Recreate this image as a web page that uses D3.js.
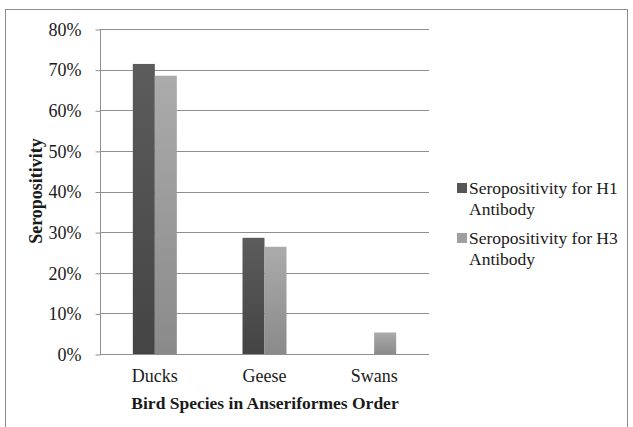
<!DOCTYPE html>
<html><head><meta charset="utf-8">
<script src="https://cdn.jsdelivr.net/npm/d3@7"></script>
<style>body{margin:0;background:#fff}svg{display:block}text{font-family:"Liberation Serif","Times New Roman",serif;fill:#1a1a1a}</style>
</head><body>
<script>
const categories = ["Ducks", "Geese", "Swans"];
const seriesNames = ["Seropositivity for H1 Antibody", "Seropositivity for H3 Antibody"];
const h1Values = [0.714, 0.286, 0];
const h3Values = [0.685, 0.264, 0.053];
const yTicks = [0, 0.1, 0.2, 0.3, 0.4, 0.5, 0.6, 0.7, 0.8];

(function () {
const W = 633, H = 427;
const svg = d3.select("body").append("svg").attr("width", W).attr("height", H);
const defs = svg.append("defs");
const g1 = defs.append("linearGradient").attr("id","gDark").attr("x1",0).attr("y1",0).attr("x2",0).attr("y2",1);
g1.append("stop").attr("offset","0%").attr("stop-color","#5c5c5c");
g1.append("stop").attr("offset","100%").attr("stop-color","#444444");
const g2 = defs.append("linearGradient").attr("id","gLight").attr("x1",0).attr("y1",0).attr("x2",0).attr("y2",1);
g2.append("stop").attr("offset","0%").attr("stop-color","#ababab");
g2.append("stop").attr("offset","100%").attr("stop-color","#8a8a8a");
const fills = ["url(#gDark)", "url(#gLight)"];
const legendFills = ["#555555", "#a0a0a0"];
const FONT = '"Liberation Serif","Times New Roman",serif';

// outer frame
svg.append("rect").attr("x",5.5).attr("y",9.5).attr("width",622).attr("height",430)
  .attr("fill","none").attr("stroke","#8c8c8c").attr("stroke-width",1);

const pLeft = 100, pRight = 429, pTop = 29, pBottom = 354;
const x = d3.scaleBand().domain(categories).range([pLeft, pRight]).paddingInner(0).paddingOuter(0);
const y = d3.scaleLinear().domain([0, 0.8]).range([pBottom, pTop]);
const barW = 22;

// gridlines
svg.append("g").selectAll("line").data(yTicks).join("line")
  .attr("x1", pLeft).attr("x2", pRight)
  .attr("y1", d => Math.round(y(d)) + 0.5).attr("y2", d => Math.round(y(d)) + 0.5)
  .attr("stroke", "#8f8f8f").attr("stroke-width", 1);

// y axis
const yAxis = d3.axisLeft(y).tickValues(yTicks).tickFormat(d3.format(".0%")).tickSize(5).tickPadding(14);
const ya = svg.append("g").attr("transform", `translate(${pLeft + 0.5},0.5)`).call(yAxis)
  .attr("font-family", FONT);
ya.select(".domain").attr("stroke", "#8f8f8f").attr("d", `M0,${pTop}V${pBottom}`);
ya.selectAll(".tick line").attr("stroke", "#8f8f8f");
ya.selectAll(".tick text").attr("font-size", 18).attr("font-family", FONT).attr("fill", "#1a1a1a");

// bars
const data = [];
categories.forEach((c, i) => {
  [h1Values[i], h3Values[i]].forEach((v, s) => data.push({c, v, s}));
});
svg.append("g").selectAll("rect").data(data.filter(d => d.v > 0)).join("rect")
  .attr("x", d => x(d.c) + x.bandwidth() / 2 - barW + d.s * barW)
  .attr("y", d => y(d.v))
  .attr("width", barW)
  .attr("height", d => y(0) - y(d.v))
  .attr("fill", d => fills[d.s]);

// x labels
svg.append("g").selectAll("text").data(categories).join("text")
  .attr("x", d => x(d) + x.bandwidth() / 2).attr("y", 382)
  .attr("text-anchor", "middle").attr("font-size", 18).attr("font-family", FONT).text(d => d);

// axis titles
svg.append("text").attr("x", 265).attr("y", 409).attr("text-anchor", "middle")
  .attr("font-size", 17.5).attr("font-weight", "bold").attr("font-family", FONT).text("Bird Species in Anseriformes Order");
svg.append("text").attr("transform", "translate(42,191) rotate(-90)").attr("text-anchor", "middle")
  .attr("font-size", 18).attr("font-weight", "bold").attr("font-family", FONT).text("Seropositivity");

// legend
const leg = svg.append("g");
seriesNames.forEach((name, i) => {
  const y0 = 188 + i * 50;
  leg.append("rect").attr("x", 457).attr("y", y0 - 5).attr("width", 10).attr("height", 10).attr("fill", legendFills[i]);
  const words = name.split(" ");
  const l1 = words.slice(0, 3).join(" "), l2 = words.slice(3).join(" ");
  leg.append("text").attr("x", 469).attr("y", y0 + 6).attr("font-size", 17.5).attr("font-family", FONT).text(l1);
  leg.append("text").attr("x", 469).attr("y", y0 + 27).attr("font-size", 17.5).attr("font-family", FONT).text(l2);
});
})();
</script>
</body></html>
